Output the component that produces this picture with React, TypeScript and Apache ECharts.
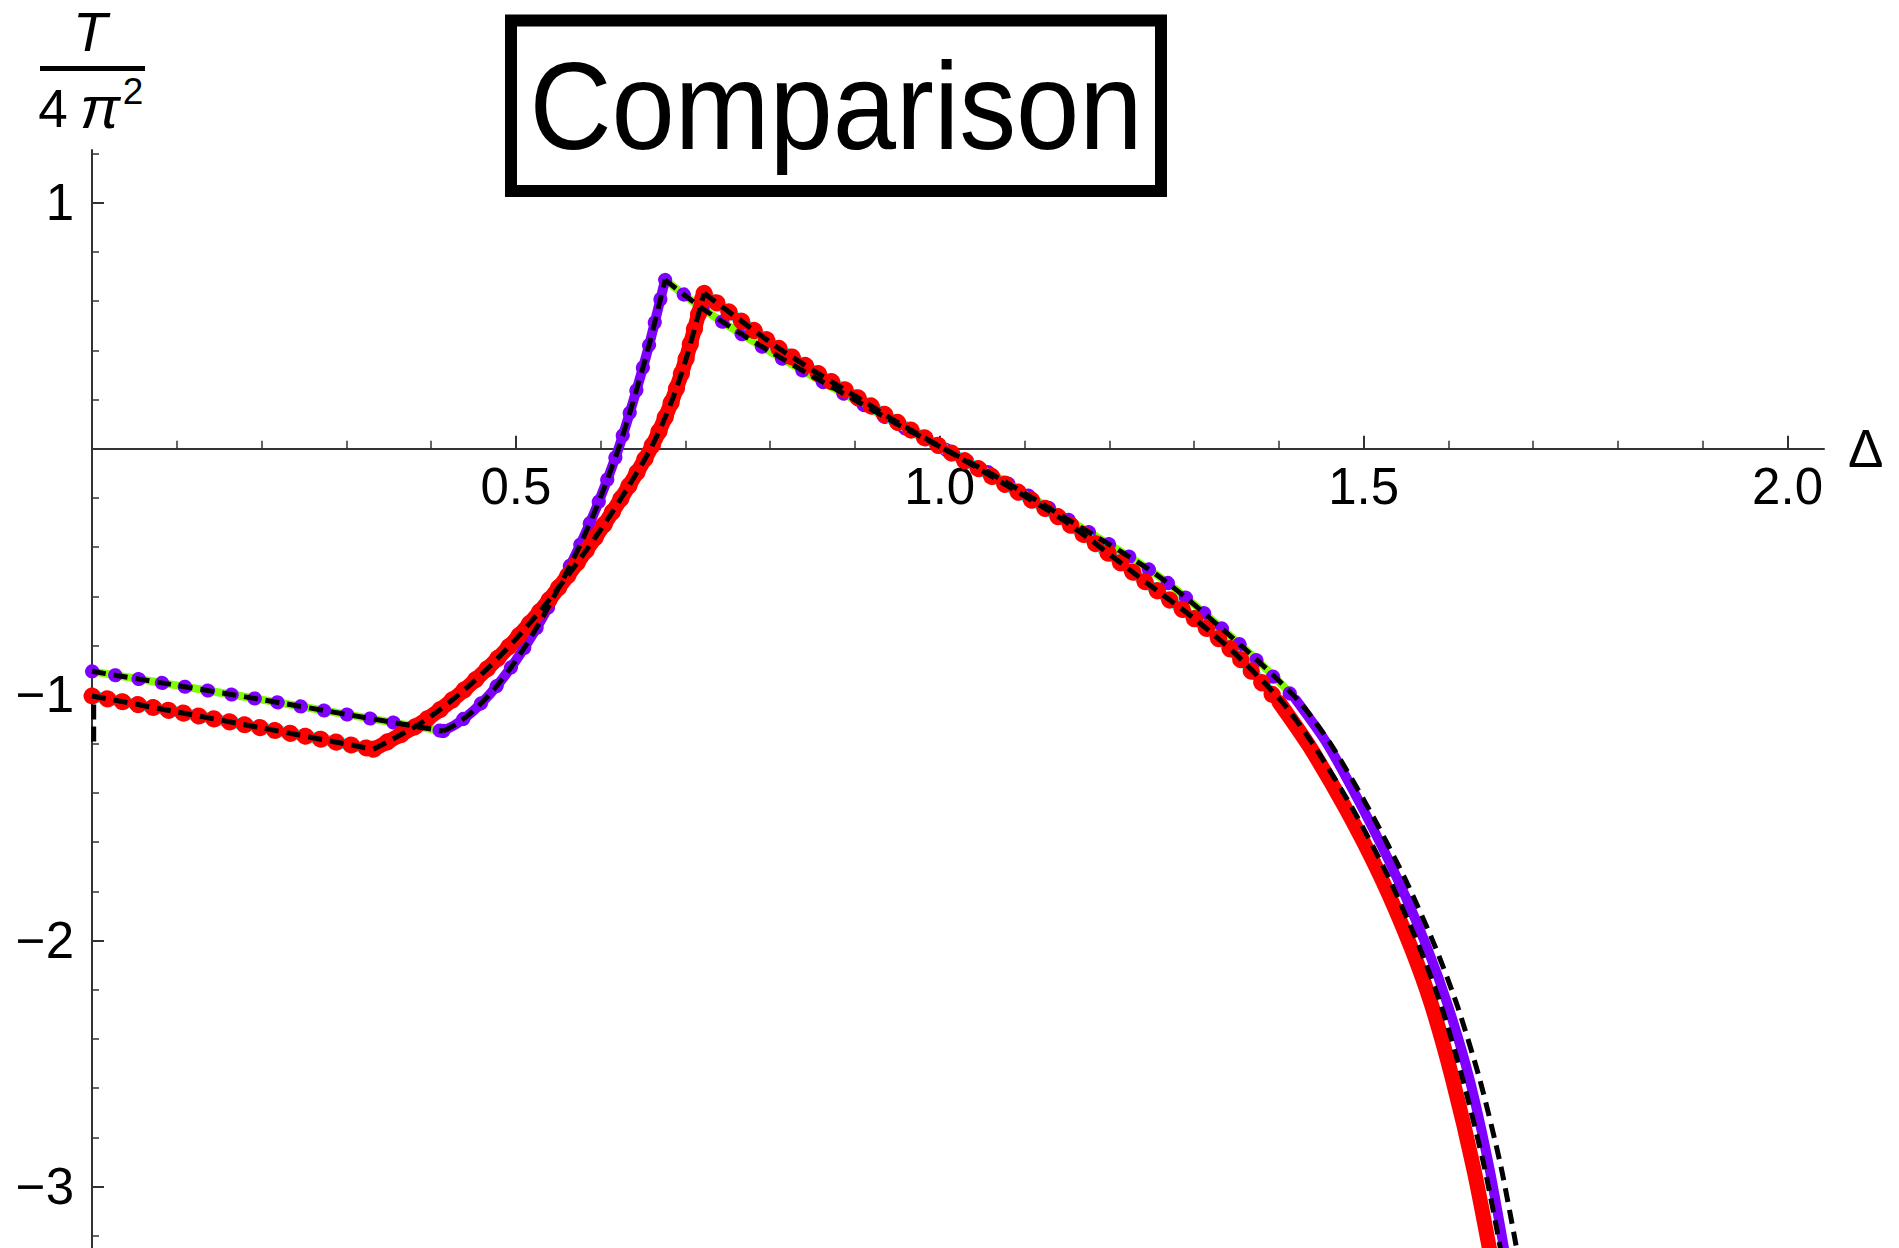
import React, { useEffect, useRef } from "react";
import * as echarts from "echarts";

// ---- tick labels ----
const xMajorTicks = [0.5, 1.0, 1.5, 2.0];
const yMajorTicks = [-3, -2, -1, 0, 1];
const yLabelTicks = [-3, -2, -1, 1];

// ---- axis ranges ----
const X_MIN = 0;
const X_MAX = 2.043;
const Y_MIN = -3.25;
const Y_MAX = 1.215;

// ---- upper curve (violet points / green line) ----
const upperFlat: number[][] = [
  [0, -0.905], [0.1, -0.962], [0.2, -1.02], [0.3, -1.08], [0.414, -1.148],
];
const upperRise: number[][] = [
  [0.414, -1.148], [0.43, -1.119], [0.45, -1.065], [0.47, -0.995], [0.49, -0.909],
  [0.51, -0.809], [0.53, -0.695], [0.557, -0.522], [0.577, -0.382], [0.597, -0.222],
  [0.62, -0.01], [0.638, 0.189], [0.657, 0.42], [0.676, 0.687],
];
const upperFall: number[][] = [
  [0.676, 0.687], [0.717, 0.578], [0.764, 0.471], [0.8, 0.395], [0.85, 0.295],
  [0.9, 0.198], [0.95, 0.1], [1.005, 0], [1.07, -0.12], [1.15, -0.285],
  [1.259, -0.52], [1.357, -0.805], [1.42, -1.02], [1.457, -1.2], [1.5, -1.47],
  [1.54, -1.75], [1.575, -2.03], [1.6, -2.27], [1.625, -2.565], [1.648, -2.92],
  [1.668, -3.3],
];

// ---- lower curve (red points / cyan line) ----
const lowerFlat: number[][] = [
  [0, -1.005], [0.1, -1.07], [0.2, -1.135], [0.332, -1.222],
];
const lowerRise: number[][] = [
  [0.332, -1.222], [0.355, -1.18], [0.384, -1.124], [0.41, -1.062], [0.44, -0.978],
  [0.47, -0.882], [0.5, -0.774], [0.53, -0.654], [0.557, -0.535], [0.582, -0.418],
  [0.607, -0.293], [0.632, -0.158], [0.657, -0.012], [0.672, 0.095], [0.687, 0.222],
  [0.702, 0.38], [0.722, 0.632],
];
const lowerFall: number[][] = [
  [0.722, 0.632], [0.75, 0.56], [0.807, 0.416], [0.85, 0.32], [0.9, 0.215],
  [0.95, 0.108], [1.005, 0], [1.07, -0.13], [1.15, -0.3], [1.244, -0.545],
  [1.3, -0.69], [1.346, -0.825], [1.4, -1.03], [1.436, -1.21], [1.48, -1.47],
  [1.52, -1.74], [1.555, -2.02], [1.58, -2.26], [1.605, -2.565], [1.63, -2.93],
  [1.651, -3.3],
];

// ---- dashed black approximations (where they leave the coloured curves) ----
const black1Start: number[][] = [[0.002, -1.19], [0.002, -1.01]];
const black1Tail: number[][] = [
  [1.404, -1.03], [1.442, -1.21], [1.488, -1.47], [1.529, -1.74], [1.565, -2.02],
  [1.591, -2.26], [1.617, -2.565], [1.643, -2.93], [1.664, -3.3],
];
const black2Tail: number[][] = [
  [1.422, -1.02], [1.461, -1.2], [1.507, -1.47], [1.549, -1.75], [1.585, -2.03],
  [1.611, -2.27], [1.637, -2.565], [1.662, -2.92], [1.683, -3.3],
];

const FONT = "'Liberation Sans', Arial, Helvetica, sans-serif";
const VIOLET = "#8000ff";
const GREEN = "#80ff00";
const RED = "#ff0000";
const CYAN = "#00ffff";

const GRID_TOP = 150;
const GRID_HEIGHT = 1098;
const CHART_H = 1248;

export default function App() {
  const ref = useRef<HTMLDivElement>(null);

  useEffect(() => {
    document.body.style.margin = "0";
    document.body.style.overflow = "hidden";
    const chart = echarts.init(ref.current as HTMLDivElement, null, { renderer: "svg" });

    const upperTail = upperFall.filter((p) => p[1] <= -1.0);
    const lowerTail = lowerFall.filter((p) => p[1] <= -1.0);
    const black2Fall = [...upperFall.filter((p) => p[1] > -1.0), ...black2Tail];
    const black1Fall = [...lowerFall.filter((p) => p[1] > -1.0), ...black1Tail];

    const series: any[] = [];
    const add = (segs: number[][][], lineStyle: any, smooth: number | boolean = 0.25) => {
      segs.forEach((data) => {
        series.push({
          type: "line",
          data,
          symbol: "none",
          showSymbol: false,
          silent: true,
          smooth: data.length > 2 ? smooth : false,
          clip: true,
          lineStyle,
        });
      });
    };

    add([upperFlat, upperRise, upperFall], { color: GREEN, width: 8 });
    add([upperFlat, upperRise, upperFall.filter((p) => p[1] > -1.1)], { color: VIOLET, width: 14, type: [0.5, 23], cap: "round" });
    add([upperRise, upperTail], { color: VIOLET, width: 10, cap: "round" });
    add([lowerFlat, lowerRise, lowerFall], { color: CYAN, width: 11 });
    add([lowerFlat, lowerRise, lowerFall.filter((p) => p[1] > -1.1)], { color: RED, width: 17, type: [0.5, 15], cap: "round" });
    add([lowerRise, lowerTail], { color: RED, width: 15, cap: "round" });
    add([upperFlat, upperRise, black2Fall], { color: "#000", width: 5, type: [14, 8] });
    add([black1Start], { color: "#000", width: 5, type: [15, 7] }, false);
    add([lowerFlat, lowerRise, black1Fall], { color: "#000", width: 5, type: [14, 8] });

    // pixel row of y = 0 inside the grid: the x axis is shifted there
    const zeroY = GRID_TOP + (GRID_HEIGHT * Y_MAX) / (Y_MAX - Y_MIN);
    const xAxisOffset = -(GRID_TOP + GRID_HEIGHT - zeroY);

    const axisColor = "#333";
    const option: any = {
      animation: false,
      backgroundColor: "#fff",
      grid: {
        left: 92,
        top: GRID_TOP,
        width: 1732,
        height: GRID_HEIGHT,
        containLabel: false,
        outerBoundsMode: "none",
      },
      xAxis: {
        type: "value",
        min: X_MIN,
        max: X_MAX,
        position: "bottom",
        offset: xAxisOffset,
        axisLine: { show: true, onZero: false, lineStyle: { color: axisColor, width: 2 } },
        axisTick: { show: true, inside: true, length: 13, customValues: xMajorTicks, lineStyle: { color: axisColor, width: 2 } },
        minorTick: { show: true, splitNumber: 5, length: 8, lineStyle: { color: axisColor, width: 1.5 } },
        axisLabel: {
          show: true,
          customValues: xMajorTicks,
          formatter: (v: number) => v.toFixed(1),
          fontSize: 51,
          fontFamily: FONT,
          color: "#000",
          margin: 12,
        },
        splitLine: { show: false },
        minorSplitLine: { show: false },
        name: "Δ",
        nameLocation: "end",
        nameGap: 24,
        nameTextStyle: { fontSize: 53, fontFamily: FONT, color: "#000" },
      },
      yAxis: {
        type: "value",
        min: Y_MIN,
        max: Y_MAX,
        position: "left",
        axisLine: { show: true, onZero: false, lineStyle: { color: axisColor, width: 2 } },
        axisTick: { show: true, inside: true, length: 12, customValues: yMajorTicks, lineStyle: { color: axisColor, width: 2 } },
        minorTick: { show: true, splitNumber: 5, length: 7, lineStyle: { color: axisColor, width: 1.5 } },
        axisLabel: {
          show: true,
          customValues: yLabelTicks,
          formatter: (v: number) => (v < 0 ? "\u2212" + Math.abs(v) : String(v)),
          fontSize: 51,
          fontFamily: FONT,
          color: "#000",
          margin: 18,
        },
        splitLine: { show: false },
        minorSplitLine: { show: false },
      },
      graphic: [
        {
          type: "rect",
          z: 100,
          shape: { x: 511, y: 20.5, width: 650, height: 170.5 },
          style: { fill: "#fff", stroke: "#000", lineWidth: 12 },
        },
        {
          type: "text",
          z: 101,
          x: 836,
          y: 106,
          scaleX: 0.91,
          style: { text: "Comparison", fontSize: 125, fontFamily: FONT, fill: "#000", align: "center", verticalAlign: "middle" },
        },
        {
          type: "text",
          z: 101,
          x: 90,
          y: 31,
          style: { text: "T", fontSize: 56, fontStyle: "italic", fontFamily: FONT, fill: "#000", align: "center", verticalAlign: "middle" },
        },
        {
          type: "rect",
          z: 101,
          shape: { x: 40, y: 66, width: 105, height: 5 },
          style: { fill: "#000" },
        },
        {
          type: "text",
          z: 101,
          x: 53,
          y: 108,
          style: { text: "4", fontSize: 53, fontFamily: FONT, fill: "#000", align: "center", verticalAlign: "middle" },
        },
        {
          type: "text",
          z: 101,
          x: 100,
          y: 107,
          style: { text: "π", fontSize: 60, fontStyle: "italic", fontFamily: FONT, fill: "#000", align: "center", verticalAlign: "middle" },
        },
        {
          type: "text",
          z: 101,
          x: 133,
          y: 91,
          style: { text: "2", fontSize: 37, fontFamily: FONT, fill: "#000", align: "center", verticalAlign: "middle" },
        },
      ],
      series,
    };

    chart.setOption(option);
    return () => chart.dispose();
  }, []);

  return <div ref={ref} style={{ width: 1899, height: CHART_H }} />;
}
